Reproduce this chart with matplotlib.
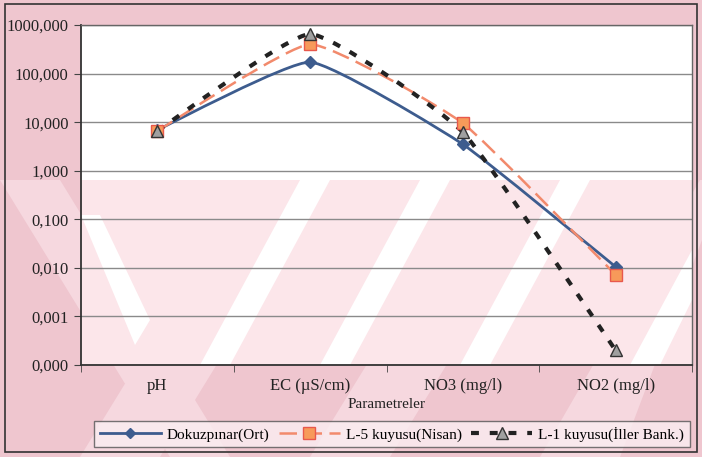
import matplotlib
matplotlib.use('Agg')
import matplotlib.pyplot as plt
import numpy as np
from matplotlib.path import Path
from matplotlib.patches import PathPatch, Polygon, Rectangle
from matplotlib.lines import Line2D
from matplotlib.ticker import FixedLocator, FuncFormatter

# data
categories = ['pH', 'EC (\u00b5S/cm)', 'NO3 (mg/l)', 'NO2 (mg/l)']
dokuzpinar = [6.9, 172.0, 3.5, 0.0105]
l5_nisan = [6.6, 400.0, 9.5, 0.0072]
l1_iller = [6.6, 650.0, 6.2, 0.0002]
series_names = ['Dokuzp\u0131nar(Ort)', 'L-5 kuyusu(Nisan)', 'L-1 kuyusu(\u0130ller Bank.)']

plt.rcParams['font.family'] = ['Liberation Serif', 'DejaVu Serif']

fig = plt.figure(figsize=(7.02, 4.57), dpi=100, facecolor='#efc6cf')
ax = fig.add_axes([81/702, 1-365/457, 611/702, 340/457])
ax.set_facecolor('white')


def px(pts):
    # pixel coords of the picture -> figure fraction
    return [(x/702., 1-y/457.) for x, y in pts]


# watermark stripes (decoration only)
for pts in [[(0, 180), (60, 180), (230, 457), (170, 457)],
            [(250, 180), (330, 180), (160, 457), (80, 457)],
            [(480, 180), (560, 180), (390, 457), (310, 457)],
            [(700, 180), (702, 180), (702, 240), (620, 457), (540, 457)]]:
    fig.add_artist(Polygon(px(pts), closed=True, fc='#f6d8df', ec='none', zorder=-1))

ax.add_patch(Polygon(px([(81, 180), (692, 180), (692, 365), (81, 365)]),
                     transform=fig.transFigure, fc='#fce6ea', ec='none', zorder=0.2))
for pts in [[(81, 215), (100, 215), (150, 320), (135, 345)],
            [(300, 180), (330, 180), (230, 365), (200, 365)],
            [(420, 180), (450, 180), (350, 365), (320, 365)],
            [(560, 180), (590, 180), (490, 365), (460, 365)],
            [(692, 250), (692, 300), (660, 365), (630, 365)]]:
    ax.add_patch(Polygon(px(pts), transform=fig.transFigure, fc='white',
                         ec='none', zorder=0.3))

fig.add_artist(Rectangle((5/702, 1-452/457), 692/702, 448/457, transform=fig.transFigure,
                         fill=False, ec='#333333', lw=1.2))

xs = np.arange(len(categories))


def smooth_path(x, y, t=0.07):
    # Bezier curve through points, like a smoothed line in a spreadsheet chart
    ly = np.log10(y)
    p = np.column_stack([x, ly])
    n = len(p)
    verts = [p[0]]
    codes = [Path.MOVETO]
    for i in range(n-1):
        p0 = p[max(i-1, 0)]
        p3 = p[min(i+2, n-1)]
        c1 = p[i] + (p[i+1]-p0)*t
        c2 = p[i+1] - (p3-p[i])*t
        verts += [c1, c2, p[i+1]]
        codes += [Path.CURVE4]*3
    verts = np.array(verts)
    verts[:, 1] = 10**verts[:, 1]
    return Path(verts, codes)


styles = [
    dict(color='#3d5c8e', ls='-', lw=2.0, marker='D', ms=6, mfc='#3d5c8e', mec='#3d5c8e'),
    dict(color='#f28a6c', ls=(0, (7, 3)), lw=1.8, marker='s', ms=9, mfc='#f79a5a', mec='#e8584c'),
    dict(color='#222222', ls=(0, (1.9, 2.6)), lw=3.0, marker='^', ms=9, mfc='#a0a0a0', mec='#333333'),
]

handles = []
for vals, st, name in zip([dokuzpinar, l5_nisan, l1_iller], styles, series_names):
    ax.add_patch(PathPatch(smooth_path(xs, vals), fill=False, ec=st['color'],
                           ls=st['ls'], lw=st['lw'], zorder=3))
    ax.plot(xs, vals, ls='none', marker=st['marker'], ms=st['ms'],
            mfc=st['mfc'], mec=st['mec'], mew=1, zorder=4)
    handles.append(Line2D([], [], color=st['color'], ls=st['ls'], lw=st['lw'],
                          marker=st['marker'], ms=st['ms']-1, mfc=st['mfc'],
                          mec=st['mec'], label=name))

ax.set_yscale('log')
ax.set_ylim(1e-4, 1e3)
ax.set_xlim(-0.5, len(categories)-0.5)
ax.yaxis.set_major_locator(FixedLocator([1e-4, 1e-3, 1e-2, 1e-1, 1, 10, 100, 1000]))
ax.yaxis.set_minor_locator(FixedLocator([]))
ax.yaxis.set_major_formatter(FuncFormatter(lambda v, p: ('%.3f' % v).replace('.', ',')))
ax.grid(axis='y', color='#8a8a8a', lw=1)
ax.set_axisbelow(True)

ax.set_xticks(xs)
ax.set_xticklabels(categories)
ax.set_xticks(np.arange(-0.5, len(categories)), minor=True)
ax.tick_params(axis='x', which='major', length=0, pad=9, labelsize=12, colors='#222222')
ax.tick_params(axis='x', which='minor', length=5, direction='out', color='#444444')
ax.tick_params(axis='y', length=5, direction='out', labelsize=12, colors='#222222', pad=4)
ax.tick_params(axis='y', colors='#444444')
for lab in ax.get_yticklabels():
    lab.set_color('#222222')

for s in ['left', 'bottom']:
    ax.spines[s].set_color('#333333')
    ax.spines[s].set_linewidth(1.3)
for s in ['top', 'right']:
    ax.spines[s].set_color('#666666')
    ax.spines[s].set_linewidth(1.0)

ax.set_xlabel('Parametreler', fontsize=11, labelpad=3, color='#222222')

leg = fig.legend(handles=handles, ncol=3, loc='center', bbox_to_anchor=(392/702, 1-434/457),
                 fontsize=11, handlelength=4, handletextpad=0.4, columnspacing=0.6,
                 frameon=True, fancybox=False, borderpad=0.35)
leg.get_frame().set_facecolor('#fbeef1')
leg.get_frame().set_edgecolor('#555555')
leg.get_frame().set_linewidth(1)

fig.savefig('out.png', dpi=100, facecolor=fig.get_facecolor())
